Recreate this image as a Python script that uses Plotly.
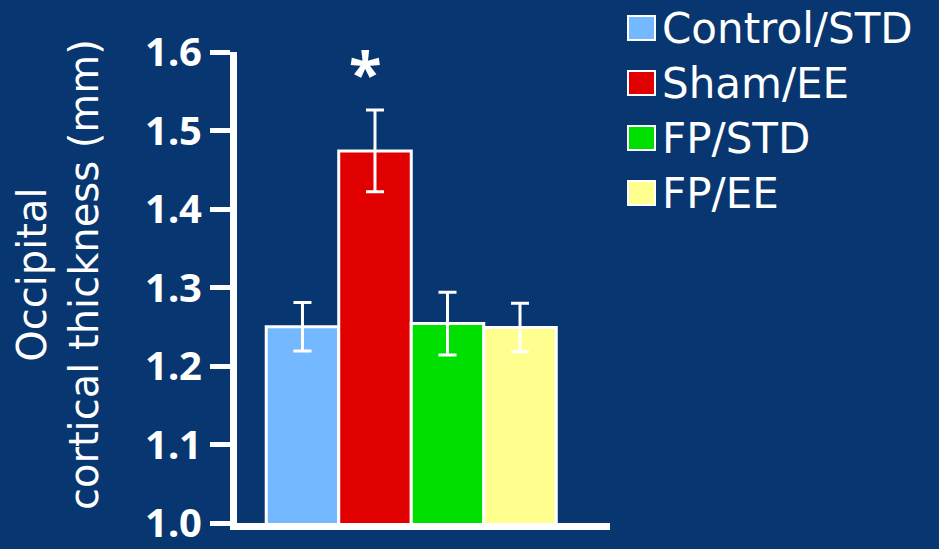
# Occipital cortical thickness bar chart
import plotly.graph_objects as go

# data
groups = ["Control/STD", "Sham/EE", "FP/STD", "FP/EE"]
thickness = [1.25, 1.474, 1.254, 1.249]
sem = [0.031, 0.052, 0.040, 0.031]
colors = ["#74B8FF", "#E00000", "#00E000", "#FFFF90"]
y_ticks = [1.0, 1.1, 1.2, 1.3, 1.4, 1.5, 1.6]

BG = "#083670"
FONT = "Comic Sans MS, DejaVu Sans, sans-serif"
TICK_FONT = "Comic Sans MS, Noto Sans, sans-serif"

# plot area in pixels (used to place the hand-made legend and title)
L, R, T, B = 237, 610, 52, 523


def px(x):
    return (x - L) / (R - L)


def py(y):
    return (B - y) / (B - T)


fig = go.Figure()

fig.add_trace(go.Bar(
    x=list(range(len(groups))), y=thickness, width=1,
    marker=dict(color=colors, line=dict(color="white", width=3)),
    error_y=dict(type="data", array=sem, color="white", thickness=3, width=9),
    base=0, showlegend=False, hoverinfo="skip",
))

# asterisk over Sham/EE (sits a little left of the bar centre in the original)
fig.add_annotation(x=0.87, y=1.575, text="<b>*</b>", showarrow=False, xref="x", yref="y",
                   font=dict(size=60, color="white", family=TICK_FONT), yanchor="middle")

# hand drawn legend (big squares like the original)
for i, (g, c) in enumerate(zip(groups, colors)):
    cy = 28 + i * 55
    fig.add_shape(type="rect", xref="paper", yref="paper",
                  x0=px(628), x1=px(655), y0=py(cy - 12), y1=py(cy + 12),
                  fillcolor=c, line=dict(color="white", width=2))
    fig.add_annotation(x=px(660), y=py(cy), xref="paper", yref="paper", text=g,
                       showarrow=False, xanchor="left", yanchor="middle",
                       font=dict(size=42, color="white", family=FONT))

# y axis title, two lines
fig.add_annotation(x=px(58), y=py(275), xref="paper", yref="paper",
                   text="Occipital<br>cortical thickness (mm)", textangle=-90,
                   showarrow=False, xanchor="center", yanchor="middle",
                   font=dict(size=40, color="white", family=FONT))

fig.update_xaxes(range=[-0.903, 4.241], showline=True, linecolor="white", linewidth=7,
                 showticklabels=False, ticks="", showgrid=False, zeroline=False,
                 automargin=False)
fig.update_yaxes(range=[1.0, 1.6], tickvals=y_ticks, ticktext=[f"{v:.1f}" for v in y_ticks],
                 showline=True, linecolor="white", linewidth=7,
                 ticks="outside", ticklen=20, tickwidth=5, tickcolor="white",
                 tickfont=dict(size=40, color="white", family=TICK_FONT, weight="bold"),
                 showgrid=False, zeroline=False, automargin=False)

fig.update_layout(
    width=939, height=549,
    paper_bgcolor=BG, plot_bgcolor=BG,
    margin=dict(l=L, r=939 - R, t=T, b=549 - B),
    showlegend=False,
)

# drop the browser's default page margin so the figure fills the window
fig.write_html("out.html", config={"displayModeBar": False},
               post_script="document.body.style.margin='0';")
